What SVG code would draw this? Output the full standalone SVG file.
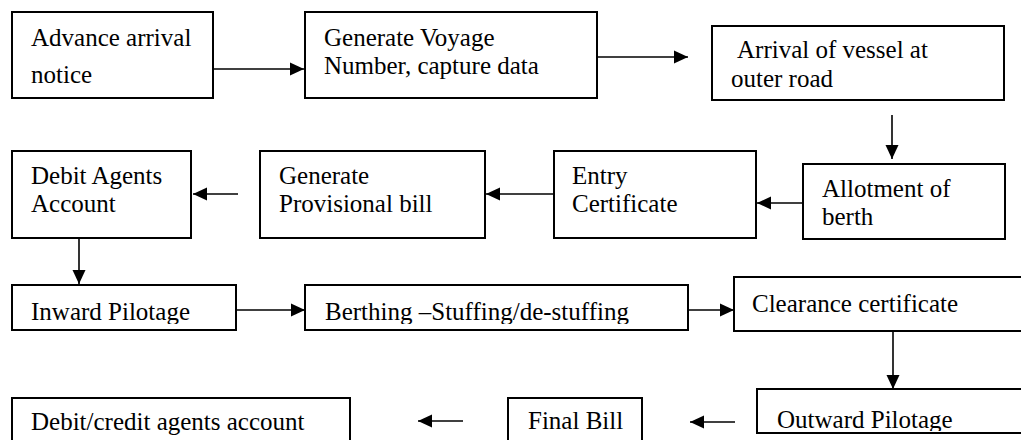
<svg xmlns="http://www.w3.org/2000/svg" width="1021" height="440" viewBox="0 0 1021 440">
<style>
.box{fill:#fff;stroke:#000;stroke-width:2}
.lbl{font-family:"Liberation Serif","Times New Roman",serif;font-size:25px;fill:#000}
.conn{stroke:#000;stroke-width:1.6;fill:none;marker-end:url(#ah)}
</style>
<defs>
<marker id="ah" viewBox="0 0 14 14" refX="14" refY="7" markerWidth="14" markerHeight="14" markerUnits="userSpaceOnUse" orient="auto">
<path d="M0,0.5 L14,7 L0,13.5 z" fill="#000"/>
</marker>
<clipPath id="row3"><rect x="0" y="0" width="1021" height="324"/></clipPath>
<clipPath id="row4"><rect x="0" y="0" width="1021" height="431"/></clipPath>
</defs>
<rect width="1021" height="440" fill="#fff"/>
<g id="connectors">
<line class="conn" x1="214" y1="69" x2="304" y2="69"/>
<line class="conn" x1="598" y1="57" x2="688" y2="57"/>
<line class="conn" x1="892" y1="115" x2="892" y2="159"/>
<line class="conn" x1="802" y1="203" x2="757" y2="203"/>
<line class="conn" x1="553" y1="194" x2="486" y2="194"/>
<line class="conn" x1="238" y1="194" x2="193" y2="194"/>
<line class="conn" x1="79" y1="239" x2="79" y2="284"/>
<line class="conn" x1="237" y1="310" x2="305" y2="310"/>
<line class="conn" x1="689" y1="310" x2="734" y2="310"/>
<line class="conn" x1="893" y1="332" x2="893" y2="389"/>
<line class="conn" x1="735" y1="422" x2="690" y2="422"/>
<line class="conn" x1="463" y1="421" x2="418" y2="421"/>
</g>
<g id="n1"><rect class="box" x="12" y="12" width="201" height="86"/>
<text class="lbl" x="31" y="46">Advance arrival</text><text class="lbl" x="31" y="83">notice</text></g>
<g id="n2"><rect class="box" x="305" y="12" width="292" height="86"/>
<text class="lbl" x="324" y="46">Generate Voyage</text><text class="lbl" x="324" y="74">Number, capture data</text></g>
<g id="n3"><rect class="box" x="712" y="26" width="292" height="74"/>
<text class="lbl" x="737" y="58">Arrival of vessel at</text><text class="lbl" x="731" y="87">outer road</text></g>
<g id="n4"><rect class="box" x="803" y="164" width="202" height="75"/>
<text class="lbl" x="822" y="197">Allotment of</text><text class="lbl" x="822" y="225">berth</text></g>
<g id="n5"><rect class="box" x="554" y="151" width="202" height="87"/>
<text class="lbl" x="572" y="184">Entry</text><text class="lbl" x="572" y="212">Certificate</text></g>
<g id="n6"><rect class="box" x="260" y="151" width="225" height="87"/>
<text class="lbl" x="279" y="184">Generate</text><text class="lbl" x="279" y="212">Provisional bill</text></g>
<g id="n7"><rect class="box" x="12" y="151" width="179" height="87"/>
<text class="lbl" x="31" y="184">Debit Agents</text><text class="lbl" x="31" y="212">Account</text></g>
<g id="n8"><rect class="box" x="12" y="285" width="224" height="45"/>
<text class="lbl" x="31" y="320" clip-path="url(#row3)">Inward Pilotage</text></g>
<g id="n9"><rect class="box" x="305" y="285" width="383" height="45"/>
<text class="lbl" x="325" y="320" clip-path="url(#row3)">Berthing –Stuffing/de-stuffing</text></g>
<g id="n10"><rect class="box" x="734" y="277" width="300" height="54"/>
<text class="lbl" x="752" y="312">Clearance certificate</text></g>
<g id="n11"><rect class="box" x="757" y="389" width="300" height="44"/>
<text class="lbl" x="777" y="428" clip-path="url(#row4)">Outward Pilotage</text></g>
<g id="n12"><rect class="box" x="508" y="398" width="134" height="60"/>
<text class="lbl" x="528" y="429">Final Bill</text></g>
<g id="n13"><rect class="box" x="12" y="398" width="338" height="60"/>
<text class="lbl" x="31" y="430">Debit/credit agents account</text></g>
</svg>
